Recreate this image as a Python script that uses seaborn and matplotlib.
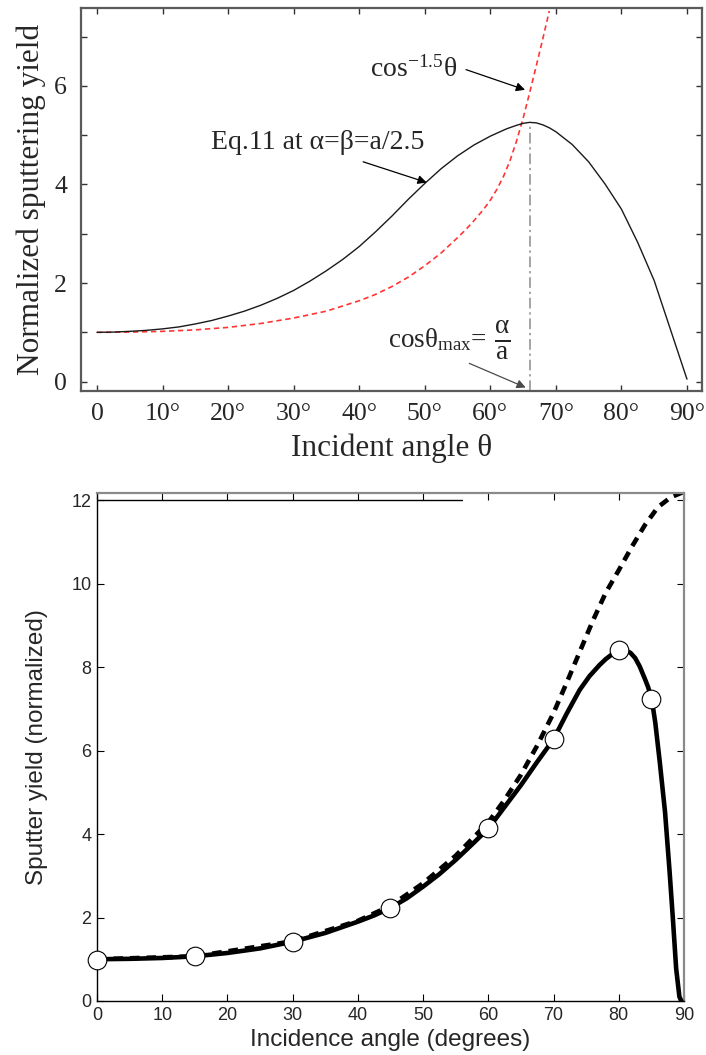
import numpy as np
import pandas as pd
import matplotlib
matplotlib.use("Agg")
import matplotlib.pyplot as plt
import seaborn as sns
from matplotlib.ticker import MultipleLocator

# ---------------- data ----------------
# top panel: Eq.11 curve (solid black)
top_theta_eq11 = [0, 2.5, 5, 7.5, 10, 12.5, 15, 17.5, 20, 22.5, 25, 27.5, 30, 32.5, 35, 37.5, 40, 42.5, 45,
                  47.5, 50, 52.5, 55, 57.5, 60, 62.5, 64, 65, 66, 67, 68, 69, 70, 72.5, 75, 77.5, 80, 82.5,
                  85, 87.5, 90]
top_eq11 = [1.00, 1.005, 1.02, 1.04, 1.07, 1.11, 1.17, 1.24, 1.33, 1.43, 1.55, 1.69, 1.85, 2.04, 2.25, 2.48,
            2.74, 3.04, 3.36, 3.70, 4.02, 4.32, 4.58, 4.80, 4.98, 5.13, 5.20, 5.24, 5.26, 5.25, 5.21, 5.15,
            5.07, 4.81, 4.46, 4.01, 3.50, 2.82, 2.05, 1.05, 0.05]
# top panel: cos^-1.5 curve (red dashed)
top_theta_cos = [0, 5, 10, 15, 20, 25, 30, 35, 40, 42.5, 45, 47.5, 50, 52.5, 55, 56, 57, 58, 59, 60, 61, 62,
                 63, 64, 65, 66, 67, 68, 69]
top_cos = [1.00, 1.005, 1.02, 1.05, 1.10, 1.18, 1.29, 1.43, 1.64, 1.77, 1.93, 2.12, 2.35, 2.61, 2.92, 3.05,
           3.19, 3.34, 3.50, 3.68, 3.90, 4.16, 4.48, 4.88, 5.34, 5.86, 6.40, 6.95, 7.52]
top_xticks = [0, 10, 20, 30, 40, 50, 60, 70, 80, 90]
top_xticklabels = ["0", "10°", "20°", "30°", "40°", "50°", "60°", "70°", "80°", "90°"]
top_yticks = [0, 2, 4, 6]

# bottom panel: solid curve
bot_theta_solid = [0, 5, 10, 15, 20, 25, 30, 35, 40, 42.5, 45, 47.5, 50, 52.5, 55, 57.5, 60, 62.5, 65, 67.5,
                   70, 72, 74, 75.5, 77, 78, 79, 80, 81, 81.8, 82.5, 83.2, 84, 84.5, 85, 85.3, 85.6, 86.3,
                   87.1, 87.8, 88.3, 88.8, 89.3, 89.6]
bot_solid = [1.00, 1.01, 1.03, 1.07, 1.15, 1.26, 1.42, 1.63, 1.90, 2.05, 2.23, 2.46, 2.74, 3.04, 3.38, 3.75,
             4.13, 4.65, 5.17, 5.73, 6.27, 6.88, 7.45, 7.78, 8.04, 8.19, 8.31, 8.39, 8.40, 8.34, 8.22, 8.02,
             7.72, 7.52, 7.25, 6.98, 6.67, 5.71, 4.52, 3.09, 1.97, 0.78, 0.10, 0.0]
# bottom panel: dashed curve
bot_theta_dash = [0, 15, 30, 40, 45, 50, 55, 60, 62.5, 65, 67.5, 70, 72, 74, 76, 78, 80, 82, 84, 86, 88, 90]
bot_dash = [1.00, 1.07, 1.43, 1.92, 2.28, 2.82, 3.48, 4.28, 4.82, 5.42, 6.12, 6.90, 7.62, 8.36, 9.10, 9.78,
            10.32, 10.88, 11.40, 11.83, 12.07, 12.20]
# bottom panel: open circles
bot_theta_pts = [0, 15, 30, 45, 60, 70, 80, 85]
bot_pts = [0.99, 1.07, 1.42, 2.23, 4.14, 6.28, 8.40, 7.24]
# stray reference line at the top of the bottom panel
ref_line_x = [0, 56]
ref_line_y = [12, 12]
bot_xticks = [0, 10, 20, 30, 40, 50, 60, 70, 80, 90]
bot_yticks = [0, 2, 4, 6, 8, 10, 12]

# ---------------- style ----------------
sns.set_theme(style="white")
plt.rcParams["font.family"] = ["Liberation Serif", "DejaVu Serif"]
plt.rcParams["mathtext.fontset"] = "custom"
plt.rcParams["mathtext.rm"] = "Liberation Serif"
plt.rcParams["mathtext.it"] = "Liberation Serif"
plt.rcParams["mathtext.bf"] = "Liberation Serif:bold"
plt.rcParams["mathtext.default"] = "rm"

fig = plt.figure(figsize=(7.06, 10.55), dpi=100)
ax1 = fig.add_axes([0.1147, 0.6294, 0.8796, 0.3630])
ax2 = fig.add_axes([0.1374, 0.0512, 0.8314, 0.4815])

# ================= top panel =================
df_eq = pd.DataFrame({"theta": top_theta_eq11, "y": top_eq11})
df_cos = pd.DataFrame({"theta": top_theta_cos, "y": top_cos})
sns.lineplot(data=df_cos, x="theta", y="y", ax=ax1, color="#ff3535", lw=1.2,
             linestyle=(0, (3.2, 2.2)), estimator=None, sort=False)
sns.lineplot(data=df_eq, x="theta", y="y", ax=ax1, color="#1a1a1a", lw=1.0,
             estimator=None, sort=False)

ax1.set_xlim(-2.44, 92.29)
ax1.set_ylim(-0.19, 7.58)

ipk = int(np.argmax(top_eq11))
ax1.vlines(top_theta_eq11[ipk], ax1.get_ylim()[0], top_eq11[ipk], colors="#8c8c8c",
           linestyles=(0, (7, 2.5, 1.5, 2.5)), lw=1.1, zorder=1)

ax1.set_xticks(top_xticks)
ax1.set_xticklabels(top_xticklabels)
ax1.set_yticks(top_yticks)
ax1.yaxis.set_minor_locator(MultipleLocator(1))
ax1.tick_params(axis="both", which="both", direction="in", top=True, right=True,
                bottom=True, left=True, length=4.5, width=1.0, color="#333333",
                labelsize=18.5, pad=9)
ax1.tick_params(axis="y", pad=10)
for s in ax1.spines.values():
    s.set_color("#5a5a5a")
    s.set_linewidth(1.6)
ax1.set_xlabel("Incident angle θ", fontsize=22.5, labelpad=6)
ax1.set_ylabel("Normalized sputtering yield", fontsize=22.5, labelpad=6)

arrow_k = dict(arrowstyle="-|>", color="black", lw=0.9, mutation_scale=13, shrinkA=0, shrinkB=0)
ax1.text(48.3, 6.33, r"$cos^{-1.5}θ$", ha="center", va="center", fontsize=20)
ax1.annotate("", xy=(65.3, 5.92), xytext=(56.3, 6.33), arrowprops=arrow_k)
ax1.text(33.6, 4.86, "Eq.11 at α=β=a/2.5", ha="center", va="center", fontsize=20)
ax1.annotate("", xy=(50.3, 4.04), xytext=(40.6, 4.46), arrowprops=arrow_k)
ax1.text(59.5, 0.86, r"$cosθ_{max}$=", ha="right", va="center", fontsize=19.5)
ax1.text(61.8, 0.84, r"$\frac{α}{a}$", ha="center", va="center", fontsize=28)
arrow_g = dict(arrowstyle="-|>", color="#4a4a4a", lw=0.9, mutation_scale=13, shrinkA=0, shrinkB=0)
ax1.annotate("", xy=(65.4, -0.12), xytext=(56.8, 0.37), arrowprops=arrow_g)

# ================= bottom panel =================
df_sd = pd.DataFrame({"theta": bot_theta_solid, "y": bot_solid})
df_dd = pd.DataFrame({"theta": bot_theta_dash, "y": bot_dash})
df_pt = pd.DataFrame({"theta": bot_theta_pts, "y": bot_pts})
df_ref = pd.DataFrame({"theta": ref_line_x, "y": ref_line_y})

sns.lineplot(data=df_dd, x="theta", y="y", ax=ax2, color="black", lw=3.3,
             linestyle=(0, (2.1, 1.5)), estimator=None, sort=False, zorder=2)
sns.lineplot(data=df_sd, x="theta", y="y", ax=ax2, color="black", lw=3.3,
             estimator=None, sort=False, zorder=3)
sns.lineplot(data=df_ref, x="theta", y="y", ax=ax2, color="black", lw=1.0,
             estimator=None, sort=False, zorder=3)
sns.scatterplot(data=df_pt, x="theta", y="y", ax=ax2, s=180, color="white",
                edgecolor="black", linewidth=0.8, zorder=5, clip_on=False)

ax2.set_xlim(0, 90)
ax2.set_ylim(0, 12.17)
ax2.set_xticks(bot_xticks)
ax2.set_yticks(bot_yticks)
ax2.tick_params(axis="both", which="both", direction="in", top=True, right=True,
                bottom=True, left=True, length=5, width=0.8, color="black",
                labelsize=13, pad=4)
for lab in ax2.get_xticklabels() + ax2.get_yticklabels():
    lab.set_fontfamily("Liberation Sans")
for side in ["left", "bottom"]:
    ax2.spines[side].set_color("black")
    ax2.spines[side].set_linewidth(1.0)
for side in ["top", "right"]:
    ax2.spines[side].set_color("#8a8a8a")
    ax2.spines[side].set_linewidth(1.6)
ax2.set_xlabel("Incidence angle (degrees)", fontsize=17.5, fontfamily="Liberation Sans", labelpad=4)
ax2.set_ylabel("Sputter yield (normalized)", fontsize=17.5, fontfamily="Liberation Sans", labelpad=17)

fig.savefig("out.png", dpi=100)
